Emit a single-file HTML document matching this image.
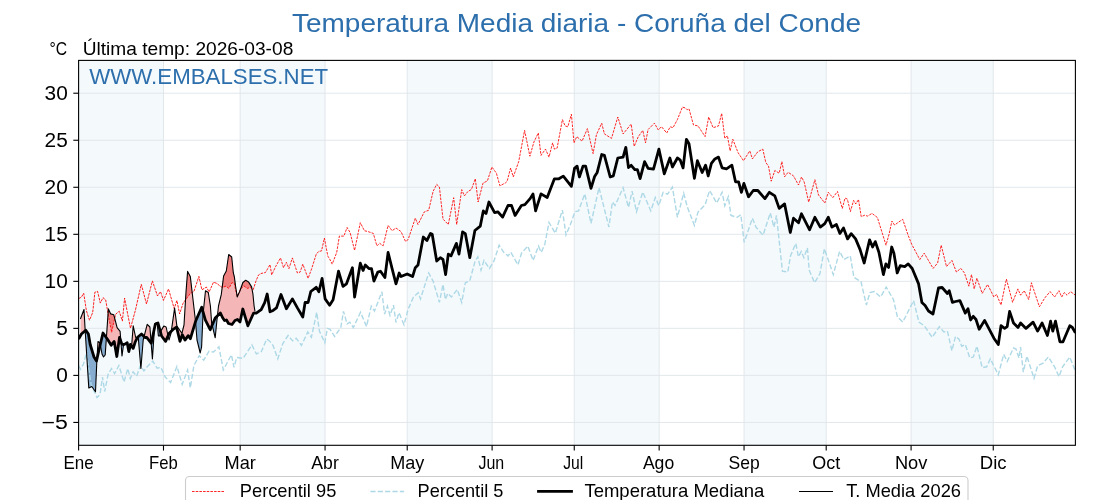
<!DOCTYPE html>
<html><head><meta charset="utf-8"><title>Temperatura Media diaria - Coruña del Conde</title>
<style>
html,body{margin:0;padding:0;background:#fff;}
body{width:1120px;height:500px;overflow:hidden;}
svg{display:block;font-family:"Liberation Sans", sans-serif;will-change:transform;}
</style></head><body>
<svg width="1120" height="500" viewBox="0 0 1120 500">
<defs>
<clipPath id="ax"><rect x="78.6" y="60.4" width="996.8000000000001" height="384.90000000000003"/></clipPath>
<clipPath id="cam"><path d="M80.4,335.8 L81.4,334.0 L85.8,330.2 L88.4,334.0 L90.2,344.5 L94.0,357.0 L96.5,361.0 L99.0,350.0 L103.0,333.0 L107.5,339.2 L111.2,345.2 L114.2,341.5 L116.8,356.5 L119.5,337.5 L122.0,344.4 L124.5,344.4 L127.2,342.8 L128.8,351.6 L130.4,344.4 L133.2,348.4 L135.2,342.0 L137.6,337.2 L141.5,334.0 L145.0,337.5 L146.7,337.4 L151.2,343.2 L155.3,324.3 L158.0,323.0 L161.6,336.0 L165.6,341.4 L169.2,333.3 L172.8,329.7 L176.5,327.0 L180.0,341.4 L182.3,334.7 L185.0,340.1 L188.2,335.6 L190.4,338.7 L195.8,320.7 L201.7,307.2 L205.3,319.8 L210.2,329.7 L215.2,318.0 L220.4,313.0 L222.5,317.5 L224.5,320.5 L226.5,320.0 L228.5,323.5 L232.0,324.5 L235.0,320.5 L237.5,319.5 L240.0,322.0 L242.8,309.0 L247.9,325.8 L253.5,313.2 L255.0,313.2 L255.0,0.0 L80.4,0.0 Z"/></clipPath>
<clipPath id="cbm"><path d="M80.4,335.8 L81.4,334.0 L85.8,330.2 L88.4,334.0 L90.2,344.5 L94.0,357.0 L96.5,361.0 L99.0,350.0 L103.0,333.0 L107.5,339.2 L111.2,345.2 L114.2,341.5 L116.8,356.5 L119.5,337.5 L122.0,344.4 L124.5,344.4 L127.2,342.8 L128.8,351.6 L130.4,344.4 L133.2,348.4 L135.2,342.0 L137.6,337.2 L141.5,334.0 L145.0,337.5 L146.7,337.4 L151.2,343.2 L155.3,324.3 L158.0,323.0 L161.6,336.0 L165.6,341.4 L169.2,333.3 L172.8,329.7 L176.5,327.0 L180.0,341.4 L182.3,334.7 L185.0,340.1 L188.2,335.6 L190.4,338.7 L195.8,320.7 L201.7,307.2 L205.3,319.8 L210.2,329.7 L215.2,318.0 L220.4,313.0 L222.5,317.5 L224.5,320.5 L226.5,320.0 L228.5,323.5 L232.0,324.5 L235.0,320.5 L237.5,319.5 L240.0,322.0 L242.8,309.0 L247.9,325.8 L253.5,313.2 L255.0,313.2 L255.0,500.0 L80.4,500.0 Z"/></clipPath>
<clipPath id="cap"><path d="M80.4,297.7 L81.4,297.2 L83.7,293.2 L86.4,310.7 L89.5,320.2 L92.7,312.5 L94.9,292.2 L97.6,291.4 L100.3,303.1 L103.0,297.7 L105.7,299.9 L108.0,313.4 L111.6,332.3 L115.6,314.3 L119.2,311.2 L122.4,321.1 L124.6,298.1 L126.5,308.0 L130.5,328.3 L135.5,309.8 L141.3,284.3 L146.5,304.0 L152.4,280.9 L157.5,296.0 L160.5,291.6 L163.5,300.4 L168.5,288.9 L174.2,308.6 L176.9,300.5 L179.6,313.9 L183.1,303.2 L190.3,293.4 L193.9,291.6 L198.9,276.4 L201.9,289.8 L206.4,287.1 L209.1,291.9 L213.5,282.2 L216.9,283.4 L219.1,285.3 L222.2,287.5 L226.0,286.2 L228.8,288.4 L232.2,282.5 L234.1,283.1 L237.2,296.2 L240.4,289.4 L243.8,285.9 L247.2,288.4 L250.4,287.5 L253.2,289.7 L255.0,284.1 L255.0,0.0 L80.4,0.0 Z"/></clipPath>
<clipPath id="cbp"><path d="M80.4,369.1 L80.5,369.2 L83.5,364.0 L86.5,352.8 L91.0,384.2 L97.0,397.5 L100.0,394.5 L102.5,377.0 L104.7,391.5 L108.2,374.0 L111.5,368.5 L114.6,373.6 L118.9,365.5 L124.0,382.0 L127.8,368.5 L130.3,378.5 L133.1,371.8 L136.7,376.2 L140.3,365.5 L143.9,370.9 L147.4,366.4 L152.8,361.1 L157.2,368.2 L160.8,367.3 L165.3,377.1 L170.6,382.5 L176.9,366.4 L182.2,384.3 L187.6,370.0 L190.3,387.9 L193.9,365.5 L199.2,355.7 L203.7,360.2 L209.0,351.2 L213.5,352.1 L218.9,346.8 L223.3,370.0 L231.4,354.8 L234.0,367.3 L236.7,357.5 L243.0,358.4 L251.9,345.0 L255.0,351.1 L255.0,500.0 L80.4,500.0 Z"/></clipPath>
</defs>
<rect x="0" y="0" width="1120" height="500" fill="#ffffff"/>

<rect x="78.60" y="60.4" width="84.89" height="384.90000000000003" fill="#f4f9fc"/>
<rect x="240.17" y="60.4" width="84.89" height="384.90000000000003" fill="#f4f9fc"/>
<rect x="407.22" y="60.4" width="84.89" height="384.90000000000003" fill="#f4f9fc"/>
<rect x="574.26" y="60.4" width="84.89" height="384.90000000000003" fill="#f4f9fc"/>
<rect x="744.05" y="60.4" width="82.15" height="384.90000000000003" fill="#f4f9fc"/>
<rect x="911.09" y="60.4" width="82.15" height="384.90000000000003" fill="#f4f9fc"/>
<g stroke="#e0e6ea" stroke-width="0.95">
<line x1="163.49" y1="60.4" x2="163.49" y2="445.3"/>
<line x1="240.17" y1="60.4" x2="240.17" y2="445.3"/>
<line x1="325.06" y1="60.4" x2="325.06" y2="445.3"/>
<line x1="407.22" y1="60.4" x2="407.22" y2="445.3"/>
<line x1="492.11" y1="60.4" x2="492.11" y2="445.3"/>
<line x1="574.26" y1="60.4" x2="574.26" y2="445.3"/>
<line x1="659.15" y1="60.4" x2="659.15" y2="445.3"/>
<line x1="744.05" y1="60.4" x2="744.05" y2="445.3"/>
<line x1="826.20" y1="60.4" x2="826.20" y2="445.3"/>
<line x1="911.09" y1="60.4" x2="911.09" y2="445.3"/>
<line x1="993.25" y1="60.4" x2="993.25" y2="445.3"/>
<line x1="78.6" y1="422.43" x2="1075.4" y2="422.43"/>
<line x1="78.6" y1="375.40" x2="1075.4" y2="375.40"/>
<line x1="78.6" y1="328.37" x2="1075.4" y2="328.37"/>
<line x1="78.6" y1="281.34" x2="1075.4" y2="281.34"/>
<line x1="78.6" y1="234.31" x2="1075.4" y2="234.31"/>
<line x1="78.6" y1="187.28" x2="1075.4" y2="187.28"/>
<line x1="78.6" y1="140.25" x2="1075.4" y2="140.25"/>
<line x1="78.6" y1="93.22" x2="1075.4" y2="93.22"/>
</g>
<text x="89.3" y="83.75" font-size="21.9" fill="#2c6fac" textLength="238.8" lengthAdjust="spacingAndGlyphs">WWW.EMBALSES.NET</text>
<g clip-path="url(#ax)">
<path d="M80.4,319.0 L84.0,309.5 L85.2,331.0 L88.8,388.0 L91.8,386.5 L95.5,391.8 L96.8,362.0 L98.0,341.5 L100.0,343.0 L102.0,354.0 L103.5,357.0 L105.2,355.0 L108.4,308.9 L110.7,313.9 L113.8,314.8 L117.1,327.6 L120.1,331.4 L122.0,356.0 L123.5,345.0 L127.2,343.0 L128.8,351.0 L131.6,346.5 L133.2,325.8 L135.7,337.5 L138.3,338.0 L140.9,368.5 L143.2,340.0 L147.2,324.3 L149.9,327.0 L152.4,359.0 L154.8,323.4 L157.1,322.5 L158.4,336.0 L159.8,336.0 L161.1,330.6 L163.8,326.1 L166.1,327.0 L169.0,340.0 L171.0,333.3 L174.6,308.1 L176.9,326.1 L181.9,333.3 L184.0,325.0 L186.0,292.0 L187.6,271.4 L190.3,276.4 L195.5,321.0 L197.0,340.0 L200.2,353.0 L201.6,347.0 L203.0,314.4 L205.5,290.7 L208.3,292.5 L210.4,306.0 L211.6,322.5 L215.2,337.8 L217.0,319.8 L218.5,306.0 L221.3,294.4 L223.6,276.0 L226.3,271.0 L228.7,254.5 L231.7,257.0 L233.3,272.7 L234.4,277.0 L235.4,285.0 L237.2,296.9 L239.8,291.2 L242.9,282.5 L245.7,280.3 L248.5,281.9 L251.6,286.9 L252.9,293.8 L254.1,306.0 L255.0,311.5 L255.0,313.2 L253.5,313.2 L247.9,325.8 L242.8,309.0 L240.0,322.0 L237.5,319.5 L235.0,320.5 L232.0,324.5 L228.5,323.5 L226.5,320.0 L224.5,320.5 L222.5,317.5 L220.4,313.0 L215.2,318.0 L210.2,329.7 L205.3,319.8 L201.7,307.2 L195.8,320.7 L190.4,338.7 L188.2,335.6 L185.0,340.1 L182.3,334.7 L180.0,341.4 L176.5,327.0 L172.8,329.7 L169.2,333.3 L165.6,341.4 L161.6,336.0 L158.0,323.0 L155.3,324.3 L151.2,343.2 L146.7,337.4 L145.0,337.5 L141.5,334.0 L137.6,337.2 L135.2,342.0 L133.2,348.4 L130.4,344.4 L128.8,351.6 L127.2,342.8 L124.5,344.4 L122.0,344.4 L119.5,337.5 L116.8,356.5 L114.2,341.5 L111.2,345.2 L107.5,339.2 L103.0,333.0 L99.0,350.0 L96.5,361.0 L94.0,357.0 L90.2,344.5 L88.4,334.0 L85.8,330.2 L81.4,334.0 L80.4,335.8 Z" fill="#f4b6b6" clip-path="url(#cam)"/>
<path d="M80.4,319.0 L84.0,309.5 L85.2,331.0 L88.8,388.0 L91.8,386.5 L95.5,391.8 L96.8,362.0 L98.0,341.5 L100.0,343.0 L102.0,354.0 L103.5,357.0 L105.2,355.0 L108.4,308.9 L110.7,313.9 L113.8,314.8 L117.1,327.6 L120.1,331.4 L122.0,356.0 L123.5,345.0 L127.2,343.0 L128.8,351.0 L131.6,346.5 L133.2,325.8 L135.7,337.5 L138.3,338.0 L140.9,368.5 L143.2,340.0 L147.2,324.3 L149.9,327.0 L152.4,359.0 L154.8,323.4 L157.1,322.5 L158.4,336.0 L159.8,336.0 L161.1,330.6 L163.8,326.1 L166.1,327.0 L169.0,340.0 L171.0,333.3 L174.6,308.1 L176.9,326.1 L181.9,333.3 L184.0,325.0 L186.0,292.0 L187.6,271.4 L190.3,276.4 L195.5,321.0 L197.0,340.0 L200.2,353.0 L201.6,347.0 L203.0,314.4 L205.5,290.7 L208.3,292.5 L210.4,306.0 L211.6,322.5 L215.2,337.8 L217.0,319.8 L218.5,306.0 L221.3,294.4 L223.6,276.0 L226.3,271.0 L228.7,254.5 L231.7,257.0 L233.3,272.7 L234.4,277.0 L235.4,285.0 L237.2,296.9 L239.8,291.2 L242.9,282.5 L245.7,280.3 L248.5,281.9 L251.6,286.9 L252.9,293.8 L254.1,306.0 L255.0,311.5 L255.0,313.2 L253.5,313.2 L247.9,325.8 L242.8,309.0 L240.0,322.0 L237.5,319.5 L235.0,320.5 L232.0,324.5 L228.5,323.5 L226.5,320.0 L224.5,320.5 L222.5,317.5 L220.4,313.0 L215.2,318.0 L210.2,329.7 L205.3,319.8 L201.7,307.2 L195.8,320.7 L190.4,338.7 L188.2,335.6 L185.0,340.1 L182.3,334.7 L180.0,341.4 L176.5,327.0 L172.8,329.7 L169.2,333.3 L165.6,341.4 L161.6,336.0 L158.0,323.0 L155.3,324.3 L151.2,343.2 L146.7,337.4 L145.0,337.5 L141.5,334.0 L137.6,337.2 L135.2,342.0 L133.2,348.4 L130.4,344.4 L128.8,351.6 L127.2,342.8 L124.5,344.4 L122.0,344.4 L119.5,337.5 L116.8,356.5 L114.2,341.5 L111.2,345.2 L107.5,339.2 L103.0,333.0 L99.0,350.0 L96.5,361.0 L94.0,357.0 L90.2,344.5 L88.4,334.0 L85.8,330.2 L81.4,334.0 L80.4,335.8 Z" fill="#86acd0" clip-path="url(#cbm)"/>
<path d="M80.4,319.0 L84.0,309.5 L85.2,331.0 L88.8,388.0 L91.8,386.5 L95.5,391.8 L96.8,362.0 L98.0,341.5 L100.0,343.0 L102.0,354.0 L103.5,357.0 L105.2,355.0 L108.4,308.9 L110.7,313.9 L113.8,314.8 L117.1,327.6 L120.1,331.4 L122.0,356.0 L123.5,345.0 L127.2,343.0 L128.8,351.0 L131.6,346.5 L133.2,325.8 L135.7,337.5 L138.3,338.0 L140.9,368.5 L143.2,340.0 L147.2,324.3 L149.9,327.0 L152.4,359.0 L154.8,323.4 L157.1,322.5 L158.4,336.0 L159.8,336.0 L161.1,330.6 L163.8,326.1 L166.1,327.0 L169.0,340.0 L171.0,333.3 L174.6,308.1 L176.9,326.1 L181.9,333.3 L184.0,325.0 L186.0,292.0 L187.6,271.4 L190.3,276.4 L195.5,321.0 L197.0,340.0 L200.2,353.0 L201.6,347.0 L203.0,314.4 L205.5,290.7 L208.3,292.5 L210.4,306.0 L211.6,322.5 L215.2,337.8 L217.0,319.8 L218.5,306.0 L221.3,294.4 L223.6,276.0 L226.3,271.0 L228.7,254.5 L231.7,257.0 L233.3,272.7 L234.4,277.0 L235.4,285.0 L237.2,296.9 L239.8,291.2 L242.9,282.5 L245.7,280.3 L248.5,281.9 L251.6,286.9 L252.9,293.8 L254.1,306.0 L255.0,311.5 L255.0,284.1 L253.2,289.7 L250.4,287.5 L247.2,288.4 L243.8,285.9 L240.4,289.4 L237.2,296.2 L234.1,283.1 L232.2,282.5 L228.8,288.4 L226.0,286.2 L222.2,287.5 L219.1,285.3 L216.9,283.4 L213.5,282.2 L209.1,291.9 L206.4,287.1 L201.9,289.8 L198.9,276.4 L193.9,291.6 L190.3,293.4 L183.1,303.2 L179.6,313.9 L176.9,300.5 L174.2,308.6 L168.5,288.9 L163.5,300.4 L160.5,291.6 L157.5,296.0 L152.4,280.9 L146.5,304.0 L141.3,284.3 L135.5,309.8 L130.5,328.3 L126.5,308.0 L124.6,298.1 L122.4,321.1 L119.2,311.2 L115.6,314.3 L111.6,332.3 L108.0,313.4 L105.7,299.9 L103.0,297.7 L100.3,303.1 L97.6,291.4 L94.9,292.2 L92.7,312.5 L89.5,320.2 L86.4,310.7 L83.7,293.2 L81.4,297.2 L80.4,297.7 Z" fill="#ee8080" clip-path="url(#cap)"/>
<path d="M78.5,365.5 L80.5,369.2 L83.5,364.0 L86.5,352.8 L91.0,384.2 L97.0,397.5 L100.0,394.5 L102.5,377.0 L104.7,391.5 L108.2,374.0 L111.5,368.5 L114.6,373.6 L118.9,365.5 L124.0,382.0 L127.8,368.5 L130.3,378.5 L133.1,371.8 L136.7,376.2 L140.3,365.5 L143.9,370.9 L147.4,366.4 L152.8,361.1 L157.2,368.2 L160.8,367.3 L165.3,377.1 L170.6,382.5 L176.9,366.4 L182.2,384.3 L187.6,370.0 L190.3,387.9 L193.9,365.5 L199.2,355.7 L203.7,360.2 L209.0,351.2 L213.5,352.1 L218.9,346.8 L223.3,370.0 L231.4,354.8 L234.0,367.3 L236.7,357.5 L243.0,358.4 L251.9,345.0 L256.4,353.9 L261.4,351.6 L266.7,339.1 L269.4,340.9 L273.0,345.4 L277.8,358.8 L282.8,343.6 L288.1,335.5 L292.6,340.9 L296.2,338.2 L301.5,345.4 L307.8,332.0 L311.4,337.3 L316.7,312.3 L319.4,331.1 L324.8,342.7 L327.4,328.4 L330.1,329.3 L334.6,336.4 L340.8,327.5 L343.5,311.4 L347.1,323.9 L349.8,322.1 L353.3,327.5 L360.5,312.3 L366.5,326.5 L371.3,306.1 L374.5,310.9 L381.9,291.8 L384.6,314.1 L387.4,306.1 L390.0,315.5 L393.5,305.2 L396.0,322.5 L399.0,312.7 L404.0,324.8 L408.2,309.0 L413.5,297.0 L418.2,292.7 L420.5,298.9 L428.7,273.0 L433.1,281.1 L439.4,302.3 L443.0,284.5 L445.4,299.4 L447.8,293.5 L451.4,297.0 L457.3,289.5 L461.7,302.4 L465.3,282.9 L469.8,280.6 L475.1,261.2 L477.8,256.8 L481.0,270.2 L484.0,260.4 L489.4,268.4 L493.9,261.2 L499.2,245.2 L503.7,252.3 L508.1,255.9 L510.8,252.3 L518.0,264.8 L521.5,253.2 L527.8,246.1 L533.1,260.4 L538.5,246.1 L541.2,252.3 L544.8,244.3 L549.0,222.5 L555.3,233.2 L562.4,210.0 L566.0,235.0 L570.5,224.3 L574.9,211.8 L578.5,210.9 L584.8,193.9 L591.0,223.4 L599.0,187.7 L608.9,227.0 L612.4,202.0 L615.1,205.5 L623.1,187.7 L628.5,207.3 L632.1,191.2 L636.5,211.8 L642.8,192.1 L650.8,210.9 L655.3,197.5 L658.8,205.6 L663.1,192.3 L667.6,194.1 L672.4,187.0 L677.4,217.3 L683.7,193.2 L687.2,206.6 L694.4,225.4 L698.0,212.0 L705.1,204.8 L709.6,190.5 L716.7,203.0 L722.1,192.3 L724.8,205.7 L728.3,196.8 L731.0,215.5 L737.2,217.3 L740.8,214.6 L744.2,242.4 L752.4,218.2 L756.0,227.1 L763.0,235.3 L770.3,212.9 L773.9,227.1 L776.5,215.5 L782.4,271.1 L787.8,272.0 L790.5,255.9 L795.8,243.4 L798.5,256.8 L801.2,251.4 L803.9,257.7 L807.4,247.9 L809.2,270.2 L814.6,282.7 L819.9,273.8 L824.4,248.8 L833.3,274.6 L839.6,251.4 L844.0,259.5 L850.3,255.9 L853.9,277.3 L861.0,281.8 L866.4,305.0 L869.9,292.5 L874.4,291.6 L880.6,297.0 L886.2,287.1 L893.5,299.7 L897.4,316.8 L902.8,322.1 L913.6,300.6 L918.9,322.1 L924.2,325.7 L932.2,337.3 L939.4,326.6 L943.9,332.0 L947.4,331.1 L951.9,350.7 L955.5,336.4 L959.0,339.1 L961.7,346.2 L965.3,344.5 L969.8,357.9 L973.3,357.0 L976.9,346.2 L982.2,367.7 L986.7,366.8 L990.3,358.8 L998.3,374.8 L1003.7,354.3 L1007.2,361.4 L1013.5,348.0 L1016.0,349.0 L1018.9,357.9 L1020.6,347.1 L1023.3,372.1 L1026.9,356.1 L1034.0,378.4 L1037.6,365.9 L1043.0,363.2 L1048.3,357.0 L1054.6,366.8 L1059.0,376.6 L1062.6,366.8 L1069.8,357.0 L1075.4,371.2" fill="none" stroke="#add8e6" stroke-width="1.39" stroke-dasharray="5.14 2.22"/>
<path d="M78.6,298.6 L81.4,297.2 L83.7,293.2 L86.4,310.7 L89.5,320.2 L92.7,312.5 L94.9,292.2 L97.6,291.4 L100.3,303.1 L103.0,297.7 L105.7,299.9 L108.0,313.4 L111.6,332.3 L115.6,314.3 L119.2,311.2 L122.4,321.1 L124.6,298.1 L126.5,308.0 L130.5,328.3 L135.5,309.8 L141.3,284.3 L146.5,304.0 L152.4,280.9 L157.5,296.0 L160.5,291.6 L163.5,300.4 L168.5,288.9 L174.2,308.6 L176.9,300.5 L179.6,313.9 L183.1,303.2 L190.3,293.4 L193.9,291.6 L198.9,276.4 L201.9,289.8 L206.4,287.1 L209.1,291.9 L213.5,282.2 L216.9,283.4 L219.1,285.3 L222.2,287.5 L226.0,286.2 L228.8,288.4 L232.2,282.5 L234.1,283.1 L237.2,296.2 L240.4,289.4 L243.8,285.9 L247.2,288.4 L250.4,287.5 L253.2,289.7 L256.0,281.0 L258.5,275.0 L261.0,273.5 L265.5,272.5 L270.0,264.6 L271.7,274.9 L275.5,266.8 L280.5,257.9 L283.5,267.7 L286.4,262.3 L288.9,268.6 L292.4,257.9 L297.4,273.0 L300.1,272.1 L302.8,264.1 L308.1,278.4 L311.7,268.6 L316.2,254.3 L318.9,251.2 L321.5,251.0 L324.4,238.0 L327.8,256.1 L329.6,258.9 L332.2,264.1 L336.7,252.5 L339.4,236.1 L343.9,236.1 L347.1,227.5 L350.1,232.5 L354.6,250.4 L360.3,222.7 L364.4,230.7 L368.0,231.6 L373.3,233.4 L376.9,245.9 L379.6,243.2 L383.1,245.9 L388.1,225.4 L392.1,230.7 L396.0,228.0 L401.0,231.6 L405.5,241.4 L408.1,239.6 L415.3,218.2 L418.0,224.5 L424.2,212.0 L428.7,210.2 L433.1,191.4 L436.7,184.3 L439.4,187.0 L443.0,219.1 L448.3,224.5 L453.7,197.7 L456.7,224.5 L461.7,189.6 L464.4,195.9 L468.0,191.4 L471.4,189.5 L475.3,178.7 L478.1,202.0 L483.0,183.1 L487.4,180.9 L491.9,167.0 L496.4,173.2 L499.9,185.8 L505.3,183.0 L507.1,181.4 L510.6,168.0 L513.3,176.9 L518.7,161.6 L524.6,130.4 L529.9,156.2 L533.9,142.0 L538.3,133.0 L541.0,155.4 L545.5,149.1 L549.0,157.1 L552.6,142.9 L554.4,149.1 L557.1,148.2 L562.4,119.6 L565.1,125.9 L567.8,126.8 L571.4,114.3 L574.0,142.9 L576.7,136.6 L582.1,141.1 L587.4,128.6 L593.1,153.6 L596.4,134.8 L601.7,123.2 L604.4,133.9 L611.5,138.4 L617.8,117.0 L623.1,133.9 L631.2,124.1 L634.2,146.4 L638.3,136.6 L642.8,130.4 L645.5,142.9 L648.1,129.5 L654.4,123.2 L658.3,130.0 L661.5,126.6 L666.7,133.0 L670.3,126.8 L673.0,127.7 L677.4,119.6 L682.4,107.1 L685.5,108.0 L687.2,109.8 L689.0,108.9 L693.5,125.0 L698.0,125.9 L705.1,136.6 L708.7,117.0 L713.1,127.7 L718.5,125.9 L721.7,113.4 L724.8,138.4 L727.4,135.7 L730.1,150.9 L732.8,139.3 L738.1,152.7 L743.5,160.7 L749.8,150.9 L752.4,158.9 L757.8,151.8 L762.8,149.1 L765.8,162.5 L768.5,166.1 L771.2,181.2 L774.8,170.5 L779.2,173.2 L781.9,161.6 L784.6,176.8 L788.1,172.3 L793.5,175.9 L798.5,185.0 L801.5,177.0 L804.2,182.1 L808.7,202.1 L814.9,179.7 L818.5,195.0 L824.8,203.0 L828.3,192.3 L832.8,197.7 L837.5,191.5 L842.3,208.5 L845.0,198.1 L847.3,199.0 L850.4,211.6 L853.6,200.4 L855.8,204.0 L858.5,199.5 L861.2,216.6 L864.8,215.2 L867.5,216.1 L872.0,213.4 L877.4,217.5 L882.8,234.9 L886.0,245.2 L889.1,234.1 L891.9,221.1 L894.6,225.1 L898.2,222.4 L902.7,219.3 L908.0,234.9 L911.7,244.3 L919.8,259.5 L924.2,253.2 L933.1,268.4 L937.6,263.0 L941.2,245.2 L946.5,266.6 L951.9,260.4 L956.4,272.0 L960.8,268.4 L964.4,272.9 L968.9,286.2 L971.5,274.6 L974.2,288.9 L976.9,278.2 L982.2,293.4 L987.6,284.5 L993.9,297.0 L996.5,294.3 L1001.0,305.0 L1006.4,279.1 L1012.6,302.3 L1017.9,288.9 L1020.6,295.2 L1024.2,290.7 L1028.7,299.6 L1031.4,282.7 L1039.4,306.8 L1044.8,297.9 L1050.1,291.6 L1054.6,297.0 L1059.0,290.7 L1061.7,297.0 L1064.4,292.5 L1067.1,295.2 L1070.6,291.6 L1075.4,295.2" fill="none" stroke="#ff0000" stroke-width="0.85" stroke-dasharray="2.57 1.11"/>
<path d="M80.4,319.0 L84.0,309.5 L85.2,331.0 L88.8,388.0 L91.8,386.5 L95.5,391.8 L96.8,362.0 L98.0,341.5 L100.0,343.0 L102.0,354.0 L103.5,357.0 L105.2,355.0 L108.4,308.9 L110.7,313.9 L113.8,314.8 L117.1,327.6 L120.1,331.4 L122.0,356.0 L123.5,345.0 L127.2,343.0 L128.8,351.0 L131.6,346.5 L133.2,325.8 L135.7,337.5 L138.3,338.0 L140.9,368.5 L143.2,340.0 L147.2,324.3 L149.9,327.0 L152.4,359.0 L154.8,323.4 L157.1,322.5 L158.4,336.0 L159.8,336.0 L161.1,330.6 L163.8,326.1 L166.1,327.0 L169.0,340.0 L171.0,333.3 L174.6,308.1 L176.9,326.1 L181.9,333.3 L184.0,325.0 L186.0,292.0 L187.6,271.4 L190.3,276.4 L195.5,321.0 L197.0,340.0 L200.2,353.0 L201.6,347.0 L203.0,314.4 L205.5,290.7 L208.3,292.5 L210.4,306.0 L211.6,322.5 L215.2,337.8 L217.0,319.8 L218.5,306.0 L221.3,294.4 L223.6,276.0 L226.3,271.0 L228.7,254.5 L231.7,257.0 L233.3,272.7 L234.4,277.0 L235.4,285.0 L237.2,296.9 L239.8,291.2 L242.9,282.5 L245.7,280.3 L248.5,281.9 L251.6,286.9 L252.9,293.8 L254.1,306.0 L255.0,311.5" fill="none" stroke="#000" stroke-width="1.1" stroke-linejoin="round"/>
<path d="M78.6,339.0 L81.4,334.0 L85.8,330.2 L88.4,334.0 L90.2,344.5 L94.0,357.0 L96.5,361.0 L99.0,350.0 L103.0,333.0 L107.5,339.2 L111.2,345.2 L114.2,341.5 L116.8,356.5 L119.5,337.5 L122.0,344.4 L124.5,344.4 L127.2,342.8 L128.8,351.6 L130.4,344.4 L133.2,348.4 L135.2,342.0 L137.6,337.2 L141.5,334.0 L145.0,337.5 L146.7,337.4 L151.2,343.2 L155.3,324.3 L158.0,323.0 L161.6,336.0 L165.6,341.4 L169.2,333.3 L172.8,329.7 L176.5,327.0 L180.0,341.4 L182.3,334.7 L185.0,340.1 L188.2,335.6 L190.4,338.7 L195.8,320.7 L201.7,307.2 L205.3,319.8 L210.2,329.7 L215.2,318.0 L220.4,313.0 L222.5,317.5 L224.5,320.5 L226.5,320.0 L228.5,323.5 L232.0,324.5 L235.0,320.5 L237.5,319.5 L240.0,322.0 L242.8,309.0 L247.9,325.8 L253.5,313.2 L256.3,313.2 L261.2,309.7 L264.7,302.7 L267.2,294.0 L270.0,311.8 L273.1,310.4 L276.5,307.9 L281.0,294.5 L286.4,308.8 L292.4,298.9 L297.4,307.9 L302.8,317.0 L305.1,302.5 L308.1,302.5 L310.8,291.5 L316.2,287.3 L318.9,291.8 L322.1,278.4 L325.1,298.9 L329.6,305.2 L333.1,299.8 L338.5,271.2 L343.0,286.4 L346.5,283.8 L352.4,267.7 L354.6,297.1 L360.3,263.2 L363.1,270.4 L365.3,265.0 L368.9,268.6 L371.5,268.6 L373.9,281.1 L377.8,272.1 L380.5,271.2 L384.9,277.5 L388.1,252.5 L392.1,268.6 L396.0,283.8 L399.2,273.0 L401.0,276.6 L407.2,273.9 L412.6,276.6 L415.3,267.7 L418.0,265.0 L423.3,237.0 L426.9,240.5 L430.5,233.4 L432.2,234.3 L436.7,261.0 L440.3,257.7 L443.0,259.5 L445.6,274.6 L448.3,254.1 L451.0,255.9 L456.4,243.4 L459.0,254.1 L462.6,231.8 L465.3,233.6 L469.8,257.7 L474.9,230.5 L480.3,226.1 L483.3,210.9 L486.0,213.6 L488.9,202.0 L494.6,212.7 L497.8,211.8 L502.6,217.1 L508.0,205.5 L511.5,205.5 L515.1,215.4 L521.4,205.5 L524.9,204.6 L530.3,198.4 L533.0,193.9 L535.6,210.9 L541.0,193.9 L547.2,197.5 L554.4,178.8 L558.9,178.8 L563.3,176.1 L571.4,186.3 L574.5,168.4 L577.1,166.1 L579.4,177.0 L583.0,166.1 L585.6,166.1 L591.0,188.3 L594.6,176.5 L597.2,172.4 L601.7,154.5 L604.4,155.4 L610.2,177.0 L613.3,175.9 L617.8,158.0 L623.1,157.1 L625.8,147.3 L628.5,167.5 L631.2,165.3 L634.8,169.7 L637.4,169.7 L640.1,178.7 L644.6,161.7 L648.1,168.3 L653.5,169.2 L658.9,149.1 L664.3,173.9 L669.9,158.0 L672.4,167.0 L677.4,158.0 L680.1,159.8 L683.1,167.9 L686.4,139.3 L689.0,143.8 L694.4,178.3 L697.4,160.7 L702.2,172.5 L705.6,165.2 L708.2,176.0 L711.4,163.4 L714.9,158.9 L718.5,157.1 L722.1,167.9 L726.5,168.8 L731.9,165.2 L735.5,181.8 L738.6,181.8 L741.4,192.3 L743.9,183.4 L748.5,196.8 L753.3,190.5 L757.8,190.5 L764.9,198.6 L769.4,192.3 L774.8,195.9 L779.2,208.4 L784.6,203.9 L790.3,232.5 L793.5,218.2 L798.5,222.7 L801.5,213.8 L809.6,229.8 L814.9,217.3 L820.3,227.1 L824.8,223.6 L828.3,217.3 L831.9,227.1 L836.4,224.5 L839.9,233.4 L843.5,228.0 L847.6,238.9 L851.2,233.6 L855.6,238.9 L860.1,249.6 L864.2,263.0 L869.6,239.8 L872.6,247.0 L875.3,241.6 L878.9,252.3 L883.4,274.6 L885.9,263.9 L888.6,267.5 L891.7,247.0 L893.9,253.2 L897.2,272.9 L900.2,265.7 L904.7,266.6 L908.2,263.9 L912.2,268.5 L918.5,283.6 L921.9,302.5 L925.1,305.5 L928.5,311.0 L933.0,314.0 L938.5,288.0 L942.1,287.5 L947.4,293.5 L949.2,290.7 L952.4,302.4 L955.5,301.5 L959.9,300.6 L965.3,313.1 L968.0,308.7 L970.6,320.0 L973.3,316.3 L976.0,319.5 L979.2,329.3 L984.6,320.4 L993.9,338.2 L998.3,344.5 L1001.0,325.7 L1004.6,328.4 L1007.2,326.6 L1009.6,311.4 L1013.5,323.0 L1018.0,327.5 L1020.6,323.0 L1026.0,328.4 L1033.1,322.1 L1037.6,331.1 L1042.1,323.0 L1047.4,335.5 L1050.6,321.2 L1052.8,331.1 L1055.5,321.2 L1059.9,341.8 L1063.0,341.8 L1069.8,325.7 L1072.4,327.5 L1075.4,332.9" fill="none" stroke="#000" stroke-width="2.78" stroke-linejoin="round" stroke-linecap="butt"/>
</g>
<rect x="78.6" y="60.4" width="996.8000000000001" height="384.90000000000003" fill="none" stroke="#000" stroke-width="1.1"/>
<g stroke="#000" stroke-width="1.1">
<line x1="78.60" y1="445.3" x2="78.60" y2="450.60"/>
<line x1="163.49" y1="445.3" x2="163.49" y2="450.60"/>
<line x1="240.17" y1="445.3" x2="240.17" y2="450.60"/>
<line x1="325.06" y1="445.3" x2="325.06" y2="450.60"/>
<line x1="407.22" y1="445.3" x2="407.22" y2="450.60"/>
<line x1="492.11" y1="445.3" x2="492.11" y2="450.60"/>
<line x1="574.26" y1="445.3" x2="574.26" y2="450.60"/>
<line x1="659.15" y1="445.3" x2="659.15" y2="450.60"/>
<line x1="744.05" y1="445.3" x2="744.05" y2="450.60"/>
<line x1="826.20" y1="445.3" x2="826.20" y2="450.60"/>
<line x1="911.09" y1="445.3" x2="911.09" y2="450.60"/>
<line x1="993.25" y1="445.3" x2="993.25" y2="450.60"/>
<line x1="73.30" y1="422.43" x2="78.6" y2="422.43"/>
<line x1="73.30" y1="375.40" x2="78.6" y2="375.40"/>
<line x1="73.30" y1="328.37" x2="78.6" y2="328.37"/>
<line x1="73.30" y1="281.34" x2="78.6" y2="281.34"/>
<line x1="73.30" y1="234.31" x2="78.6" y2="234.31"/>
<line x1="73.30" y1="187.28" x2="78.6" y2="187.28"/>
<line x1="73.30" y1="140.25" x2="78.6" y2="140.25"/>
<line x1="73.30" y1="93.22" x2="78.6" y2="93.22"/>
</g>
<g font-size="19" fill="#000" text-anchor="middle">
<text x="78.60" y="468.7" textLength="30.22" lengthAdjust="spacingAndGlyphs">Ene</text>
<text x="163.49" y="468.7" textLength="28.74" lengthAdjust="spacingAndGlyphs">Feb</text>
<text x="240.17" y="468.7" textLength="31.36" lengthAdjust="spacingAndGlyphs">Mar</text>
<text x="325.06" y="468.7" textLength="27.41" lengthAdjust="spacingAndGlyphs">Abr</text>
<text x="407.22" y="468.7" textLength="34.11" lengthAdjust="spacingAndGlyphs">May</text>
<text x="491.31" y="468.7" textLength="25.78" lengthAdjust="spacingAndGlyphs">Jun</text>
<text x="573.26" y="468.7" textLength="20.07" lengthAdjust="spacingAndGlyphs">Jul</text>
<text x="658.55" y="468.7" textLength="31.35" lengthAdjust="spacingAndGlyphs">Ago</text>
<text x="744.05" y="468.7" textLength="31.17" lengthAdjust="spacingAndGlyphs">Sep</text>
<text x="826.20" y="468.7" textLength="27.93" lengthAdjust="spacingAndGlyphs">Oct</text>
<text x="911.09" y="468.7" textLength="32.43" lengthAdjust="spacingAndGlyphs">Nov</text>
<text x="993.25" y="468.7" textLength="26.79" lengthAdjust="spacingAndGlyphs">Dic</text>
</g>
<g font-size="19.3" fill="#000">
<text x="41.40" y="429.33" textLength="26.4" lengthAdjust="spacingAndGlyphs">−5</text>
<text x="56.20" y="382.30" textLength="11.6" lengthAdjust="spacingAndGlyphs">0</text>
<text x="56.20" y="335.27" textLength="11.6" lengthAdjust="spacingAndGlyphs">5</text>
<text x="44.60" y="288.24" textLength="23.2" lengthAdjust="spacingAndGlyphs">10</text>
<text x="44.60" y="241.21" textLength="23.2" lengthAdjust="spacingAndGlyphs">15</text>
<text x="44.60" y="194.18" textLength="23.2" lengthAdjust="spacingAndGlyphs">20</text>
<text x="44.60" y="147.15" textLength="23.2" lengthAdjust="spacingAndGlyphs">25</text>
<text x="44.60" y="100.12" textLength="23.2" lengthAdjust="spacingAndGlyphs">30</text>
</g>
<text x="292" y="31.7" font-size="25.6" fill="#2c6fac" textLength="569" lengthAdjust="spacingAndGlyphs">Temperatura Media diaria - Coruña del Conde</text>
<text x="49.6" y="54.6" font-size="17.6" fill="#000" textLength="17.6" lengthAdjust="spacingAndGlyphs">°C</text>
<text x="82.7" y="54.6" font-size="17.8" fill="#000" textLength="210.6" lengthAdjust="spacingAndGlyphs">Última temp: 2026-03-08</text>
<rect x="185.5" y="476.5" width="782.5" height="40" rx="4" ry="4" fill="#fff" fill-opacity="0.8" stroke="#cccccc" stroke-width="1.1"/>
<line x1="192" y1="491.5" x2="224.6" y2="491.5" stroke="#ff0000" stroke-width="0.85" stroke-dasharray="2.57 1.11"/>
<line x1="370.4" y1="491.5" x2="404.1" y2="491.5" stroke="#add8e6" stroke-width="1.39" stroke-dasharray="5.14 2.22"/>
<line x1="537.1" y1="491.4" x2="572.9" y2="491.4" stroke="#000" stroke-width="2.78"/>
<line x1="799" y1="491.5" x2="833" y2="491.5" stroke="#000" stroke-width="1.2"/>
<g font-size="18.4" fill="#000">
<text x="239.8" y="496.75" textLength="96.5" lengthAdjust="spacingAndGlyphs">Percentil 95</text>
<text x="417.5" y="496.75" textLength="85.9" lengthAdjust="spacingAndGlyphs">Percentil 5</text>
<text x="584.4" y="496.75" textLength="180" lengthAdjust="spacingAndGlyphs">Temperatura Mediana</text>
<text x="846.2" y="496.75" textLength="114.8" lengthAdjust="spacingAndGlyphs">T. Media 2026</text>
</g>
</svg></body></html>
